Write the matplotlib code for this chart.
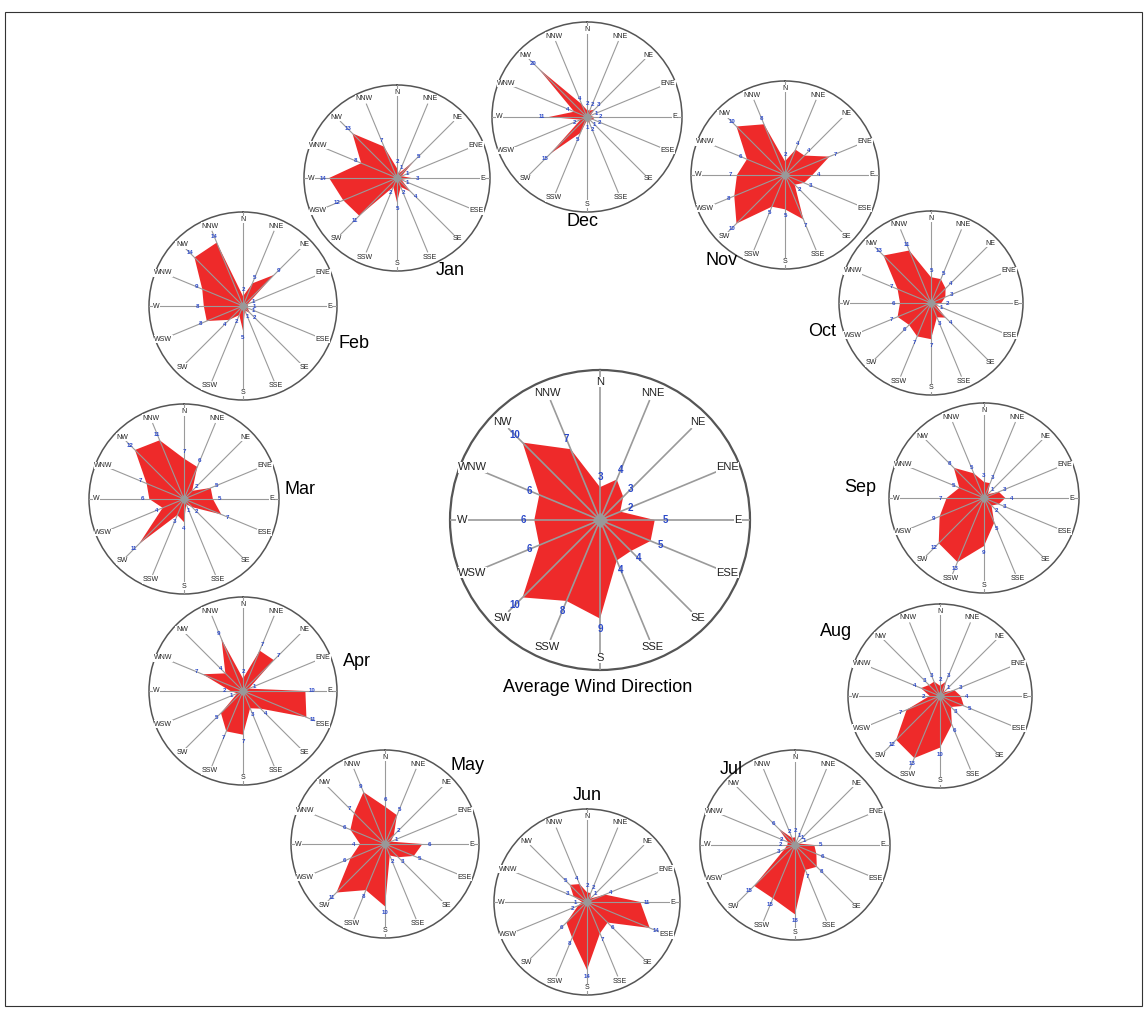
import numpy as np
import matplotlib.pyplot as plt
from matplotlib.patches import Rectangle

directions = ['N', 'NNE', 'NE', 'ENE', 'E', 'ESE', 'SE', 'SSE',
              'S', 'SSW', 'SW', 'WSW', 'W', 'WNW', 'NW', 'NNW']

# frequency per direction, clockwise from N
avg = [3, 4, 3, 2, 5, 5, 4, 4, 9, 8, 10, 6, 6, 6, 10, 7]
jan = [2, 1, 5, 1, 3, 1, 4, 2, 5, 2, 11, 12, 14, 8, 13, 7]
feb = [2, 5, 9, 1, 1, 1, 2, 1, 5, 2, 4, 8, 8, 9, 14, 14]
mar = [7, 6, 2, 5, 5, 7, 2, 1, 4, 3, 11, 4, 6, 7, 12, 11]
apr = [2, 7, 7, 1, 10, 11, 4, 3, 7, 7, 5, 1, 2, 7, 4, 9]
may = [6, 5, 2, 1, 6, 5, 3, 2, 10, 8, 11, 6, 4, 6, 7, 9]
jun = [2, 2, 1, 4, 11, 14, 6, 7, 14, 8, 6, 2, 1, 3, 5, 4]
jul = [2, 1, 1, 1, 5, 6, 8, 7, 18, 15, 15, 3, 2, 2, 6, 2]
aug = [2, 3, 1, 3, 4, 5, 3, 6, 10, 13, 12, 7, 2, 4, 3, 3]
sep = [3, 3, 1, 3, 4, 3, 2, 5, 9, 13, 12, 9, 7, 5, 8, 5]
octo = [5, 5, 4, 3, 2, 1, 4, 3, 7, 7, 6, 7, 6, 7, 13, 11]
nov = [2, 4, 4, 7, 4, 3, 2, 7, 5, 5, 10, 8, 7, 6, 10, 8]
dec = [2, 2, 3, 1, 2, 2, 1, 2, 1, 5, 15, 2, 11, 4, 20, 4]

W, H = 1146, 1009
fig = plt.figure(figsize=(W / 100, H / 100), dpi=100)
plt.rcParams['font.family'] = ['Liberation Sans', 'DejaVu Sans']

theta = np.deg2rad(np.arange(16) * 22.5)


def rose(vals, cx, cy, R, big=False):
    ax = fig.add_axes([(cx - R) / W, (H - cy - R) / H, 2 * R / W, 2 * R / H],
                      projection='polar')
    ax.set_theta_zero_location('N')
    ax.set_theta_direction(-1)
    rmax = max(vals) / 0.73
    ax.set_ylim(0, rmax)
    ax.grid(False)
    ax.set_xticks([])
    ax.set_yticks([])
    ax.set_facecolor('none')
    ax.spines['polar'].set_color('#555555')
    ax.spines['polar'].set_linewidth(1.6 if big else 1.1)

    ax.fill(np.append(theta, theta[0]), vals + [vals[0]],
            color='#ee2a2a', lw=0, zorder=2)

    dfs = 8 if big else 5
    vfs = 7 if big else 4.4
    for i, (t, d) in enumerate(zip(theta, directions)):
        end = 1.0 if i % 4 == 0 else 0.86
        ax.plot([t, t], [0, end * rmax], color='#9a9a9a',
                lw=1.2 if big else 0.8, zorder=3)
        ax.text(t, 0.92 * rmax, d, ha='center', va='center', fontsize=dfs,
                color='#222222', zorder=4,
                bbox=dict(fc='white', ec='none', pad=0.3))
        ax.text(t, vals[i] + 0.07 * rmax, str(vals[i]), ha='center',
                va='center', fontsize=vfs, color='#2a48c8',
                fontweight='bold', zorder=5)
    ax.plot([0], [0], marker='D', ms=7 if big else 4, color='#999999',
            mec='#999999', zorder=6)
    return ax


# rose positions in pixels: center x, center y, radius
rose(avg, 600, 520, 150, big=True)
rose(dec, 587, 117, 95)
rose(jan, 397, 178, 93)
rose(nov, 785, 175, 94)
rose(octo, 931, 303, 92)
rose(feb, 243, 306, 94)
rose(mar, 184, 499, 95)
rose(sep, 984, 498, 95)
rose(apr, 243, 691, 94)
rose(aug, 940, 696, 92)
rose(may, 385, 844, 94)
rose(jun, 587, 902, 93)
rose(jul, 795, 845, 95)

labels = [('Average Wind Direction', 598, 688), ('Dec', 582, 222),
          ('Jan', 450, 270), ('Nov', 722, 260), ('Oct', 822, 332),
          ('Feb', 354, 343), ('Mar', 300, 490), ('Sep', 860, 488),
          ('Apr', 357, 661), ('Aug', 836, 631), ('May', 468, 766),
          ('Jun', 587, 795), ('Jul', 731, 770)]
for txt, x, y in labels:
    fig.text(x / W, 1 - y / H, txt, ha='center', va='center', fontsize=13)

fig.patches.append(Rectangle((5 / W, 1 - 1006 / H), 1137 / W, 994 / H,
                             transform=fig.transFigure, fill=False,
                             ec='#333333', lw=0.8))

fig.savefig('out.png', dpi=100, facecolor='white')
